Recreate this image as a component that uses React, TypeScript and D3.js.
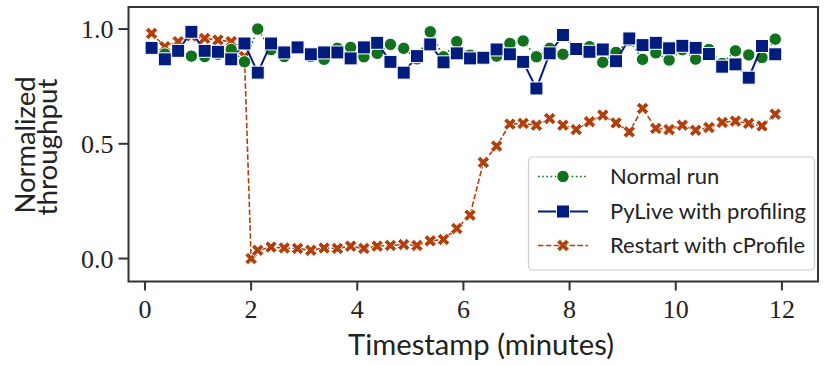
import React from 'react';
import * as d3 from 'd3';

const times = [0.125, 0.375, 0.625, 0.875, 1.125, 1.375, 1.625, 1.875, 2.125, 2.375, 2.625, 2.875, 3.125, 3.375, 3.625, 3.875, 4.125, 4.375, 4.625, 4.875, 5.125, 5.375, 5.625, 5.875, 6.125, 6.375, 6.625, 6.875, 7.125, 7.375, 7.625, 7.875, 8.125, 8.375, 8.625, 8.875, 9.125, 9.375, 9.625, 9.875, 10.125, 10.375, 10.625, 10.875, 11.125, 11.375, 11.625, 11.875];

const normalRun = [0.915, 0.891, 0.905, 0.882, 0.88, 0.89, 0.911, 0.857, 1.0, 0.91, 0.88, 0.92, 0.88, 0.868, 0.916, 0.92, 0.879,
  0.894, 0.933, 0.916, 0.87, 0.988, 0.879, 0.945, 0.886, 0.87, 0.882, 0.937, 0.948, 0.879, 0.916, 0.89, 0.91, 0.923,
  0.855, 0.898, 0.95, 0.868, 0.896, 0.865, 0.91, 0.869, 0.911, 0.85, 0.905, 0.887, 0.876, 0.956];

const pyLive = [0.918, 0.868, 0.905, 0.988, 0.905, 0.901, 0.868, 0.937, 0.81, 0.937, 0.898, 0.92, 0.89, 0.898, 0.898, 0.872, 0.92,
  0.94, 0.857, 0.81, 0.882, 0.933, 0.855, 0.894, 0.872, 0.875, 0.911, 0.89, 0.857, 0.741, 0.894, 0.974, 0.913, 0.901,
  0.911, 0.86, 0.959, 0.93, 0.94, 0.916, 0.927, 0.918, 0.891, 0.836, 0.846, 0.788, 0.926, 0.89];

const restartTimes = [0.125, 0.375, 0.625, 0.875, 1.125, 1.375, 1.625, 1.875, 2.0, 2.125, 2.375, 2.625, 2.875, 3.125, 3.375, 3.625, 3.875, 4.125, 4.375, 4.625, 4.875, 5.125, 5.375, 5.625, 5.875, 6.125, 6.375, 6.625, 6.875, 7.125, 7.375, 7.625, 7.875, 8.125, 8.375, 8.625, 8.875, 9.125, 9.375, 9.625, 9.875, 10.125, 10.375, 10.625, 10.875, 11.125, 11.375, 11.625, 11.875];

const restart = [0.981, 0.923, 0.945, 0.97, 0.959, 0.952, 0.945, 0.88, 0.0,
  0.036, 0.05, 0.046, 0.044, 0.036, 0.046, 0.044, 0.054, 0.044,
  0.054, 0.057, 0.061, 0.057, 0.077, 0.083, 0.131, 0.189, 0.419, 0.49,
  0.586, 0.589, 0.581, 0.61, 0.581, 0.562, 0.596,
  0.625, 0.591, 0.552, 0.654, 0.567, 0.562, 0.581, 0.559, 0.571, 0.593, 0.599, 0.589, 0.578, 0.629];

const xTicks = [0, 2, 4, 6, 8, 10, 12];
const yTicks = [0, 0.5, 1.0];
const yTickLabels = ['0.0', '0.5', '1.0'];
const seriesNames = ['Normal run', 'PyLive with profiling', 'Restart with cProfile'];

const GREEN = '#12711c';
const BLUE = '#001c7f';
const ORANGE = '#b1400d';
const AXIS = '#333333';
const SERIF = '"Liberation Serif", "DejaVu Serif", serif';
const SANS = 'Lato, "Open Sans", sans-serif';

const W = 826, H = 365;
const left = 128.5, right = 818, top = 7, bottom = 281.5;

const x = d3.scaleLinear().domain([-0.31, 12.68]).range([left, right]);
const y = d3.scaleLinear().domain([-0.1, 1.096]).range([bottom, top]);

const xSym = d3.symbol(d3.symbolCross, 95)();

function Circle({ cx, cy }: { cx: number; cy: number }) {
  return <circle cx={cx} cy={cy} r={6.2} fill={GREEN} stroke="#fff" strokeWidth={1} />;
}
function Square({ cx, cy }: { cx: number; cy: number }) {
  return <rect x={cx - 6.5} y={cy - 6.5} width={13} height={13} fill={BLUE} stroke="#fff" strokeWidth={1} />;
}
function XMark({ cx, cy }: { cx: number; cy: number }) {
  return <path d={xSym || ''} transform={`translate(${cx},${cy}) rotate(45)`} fill={ORANGE} stroke="#fff" strokeWidth={0.8} />;
}

export default function App() {
  const normalPts = times.map((t, i) => [x(t), y(normalRun[i])] as [number, number]);
  const pyPts = times.map((t, i) => [x(t), y(pyLive[i])] as [number, number]);
  const rPts = restartTimes.map((t, i) => [x(t), y(restart[i])] as [number, number]);
  const line = d3.line();

  const legX = 528.5, legY = 157, legW = 286, legH = 113;
  const rows = [176.5, 211.5, 245.5];

  return (
    <svg width={W} height={H} style={{ position: 'absolute', left: 0, top: 0, background: '#fff' }}>
      <rect x={0} y={0} width={W} height={H} fill="#fff" />
      {/* restart */}
      <path d={line(rPts) || ''} fill="none" stroke={ORANGE} strokeWidth={1.6} strokeDasharray="5.5,2.4" />
      {rPts.map((p, i) => <XMark key={'r' + i} cx={p[0]} cy={p[1]} />)}
      {/* normal */}
      <path d={line(normalPts) || ''} fill="none" stroke={GREEN} strokeWidth={1.6} strokeDasharray="1.6,2.6" />
      {normalPts.map((p, i) => <Circle key={'n' + i} cx={p[0]} cy={p[1]} />)}
      {/* pylive */}
      <path d={line(pyPts) || ''} fill="none" stroke={BLUE} strokeWidth={2} />
      {pyPts.map((p, i) => <Square key={'p' + i} cx={p[0]} cy={p[1]} />)}

      {/* frame */}
      <rect x={left} y={top} width={right - left} height={bottom - top} fill="none" stroke={AXIS} strokeWidth={2} />

      {/* x ticks */}
      {xTicks.map((t) => (
        <g key={'xt' + t}>
          <line x1={x(t)} x2={x(t)} y1={bottom} y2={bottom + 9} stroke={AXIS} strokeWidth={2} />
          <text x={x(t)} y={318} textAnchor="middle" fontFamily={SERIF} fontSize={26} fill="#222">{t}</text>
        </g>
      ))}
      {/* y ticks */}
      {yTicks.map((t, i) => (
        <g key={'yt' + t}>
          <line x1={left - 10} x2={left} y1={y(t)} y2={y(t)} stroke={AXIS} strokeWidth={2} />
          <text x={113.5} y={y(t) + 9} textAnchor="end" fontFamily={SERIF} fontSize={26} fill="#222">{yTickLabels[i]}</text>
        </g>
      ))}

      {/* axis labels */}
      <text x={481} y={355} textAnchor="middle" fontFamily={SANS} fontSize={28} fill="#222" textLength={266} lengthAdjust="spacingAndGlyphs">Timestamp (minutes)</text>
      <text transform={`translate(35,145) rotate(-90)`} textAnchor="middle" fontFamily={SANS} fontSize={27} fill="#222" textLength={137} lengthAdjust="spacingAndGlyphs">Normalized</text>
      <text transform={`translate(57,147) rotate(-90)`} textAnchor="middle" fontFamily={SANS} fontSize={27} fill="#222" textLength={137} lengthAdjust="spacingAndGlyphs">throughput</text>

      {/* legend */}
      <rect x={legX} y={legY} width={legW} height={legH} rx={4} ry={4} fill="#fff" fillOpacity={0.85} stroke="#cccccc" strokeWidth={1.2} />
      <line x1={538} x2={588} y1={rows[0]} y2={rows[0]} stroke={GREEN} strokeWidth={1.6} strokeDasharray="1.6,2.6" />
      <Circle cx={563} cy={rows[0]} />
      <line x1={538} x2={588} y1={rows[1]} y2={rows[1]} stroke={BLUE} strokeWidth={2} />
      <Square cx={563} cy={rows[1]} />
      <line x1={538} x2={588} y1={rows[2]} y2={rows[2]} stroke={ORANGE} strokeWidth={1.6} strokeDasharray="5.5,2.4" />
      <XMark cx={563} cy={rows[2]} />
      {seriesNames.map((s, i) => (
        <text key={s} x={610} y={rows[i] + 7.5} fontFamily={SANS} fontSize={22} fill="#222">{s}</text>
      ))}
    </svg>
  );
}
